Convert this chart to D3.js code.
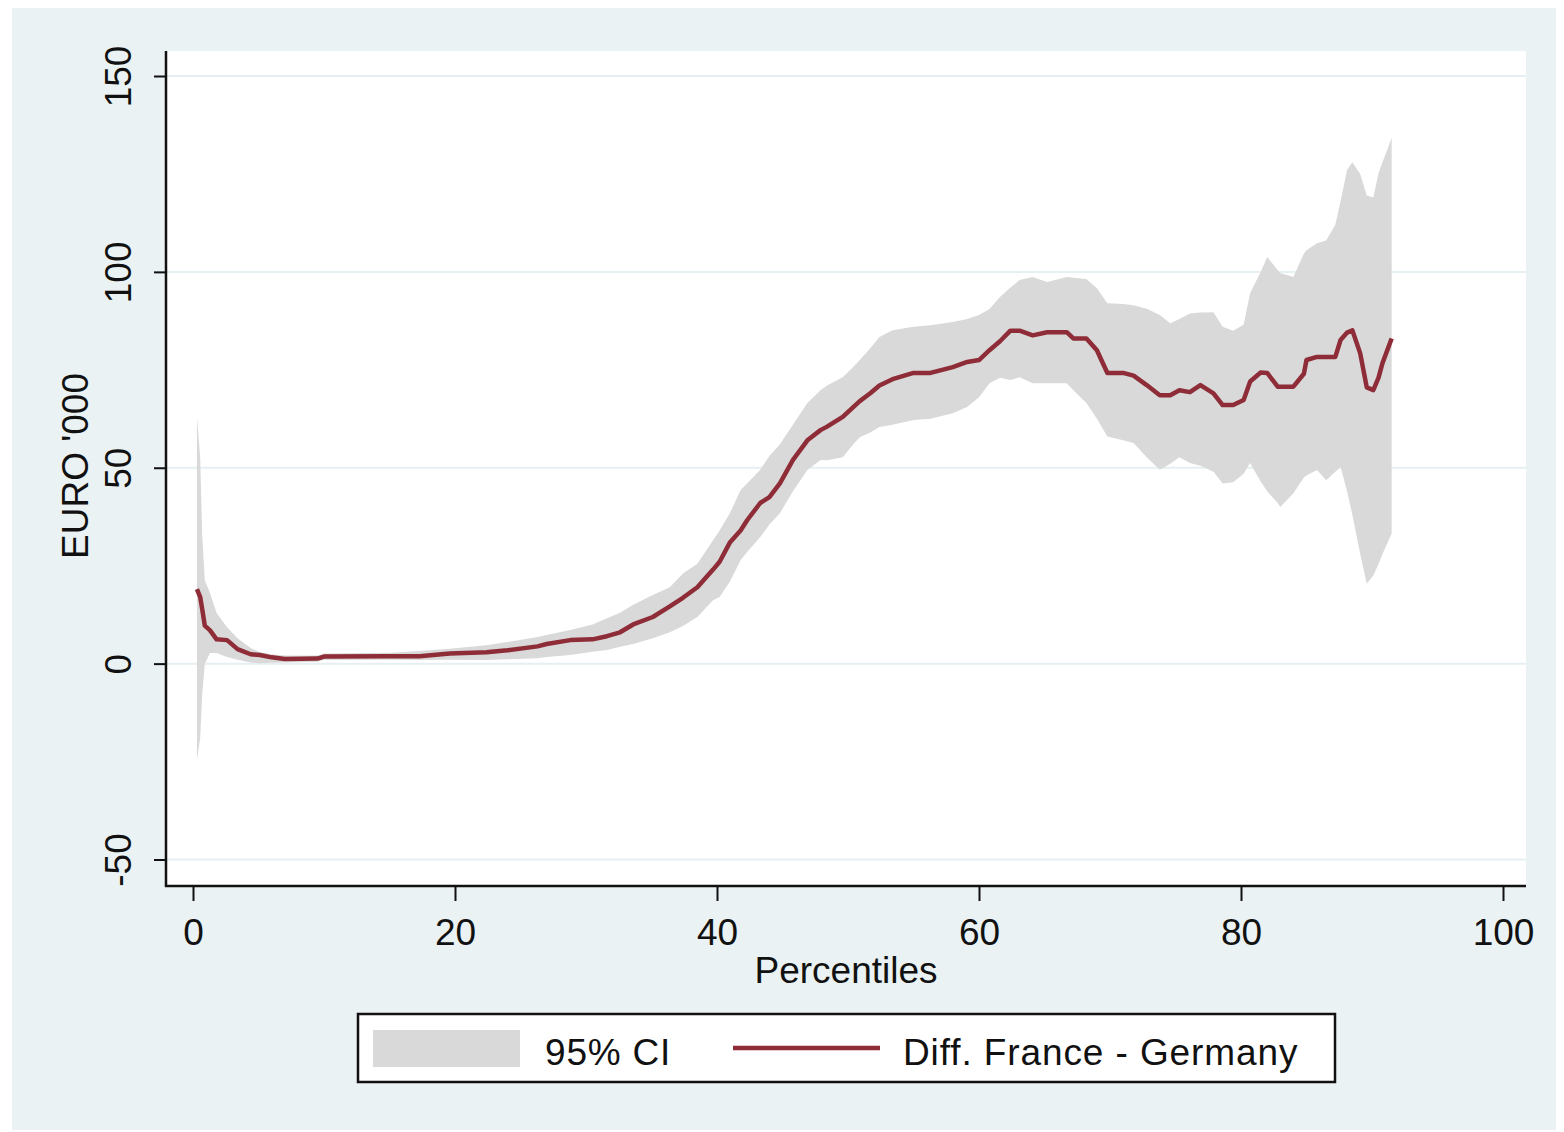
<!DOCTYPE html>
<html>
<head>
<meta charset="utf-8">
<script src="https://cdn.jsdelivr.net/npm/d3@7"></script>
<style>
  html, body { margin: 0; padding: 0; background: #ffffff; }
  svg { display: block; }
  text { font-family: "Liberation Sans", Arial, sans-serif; fill: #111; }
</style>
</head>
<body>
<svg id="chart" width="1564" height="1132"></svg>
<script>
// Percentile positions
const percentiles = [0.3,0.55,0.7,0.9,1.3,1.8,2.6,3.4,4.4,5.1,6,7,9.5,10,15,17.3,19.6,22.4,24,26.3,27,28.8,30.5,31.6,32.6,33.6,35.1,36.4,37.4,38.5,39.7,40.2,41,41.8,42.3,43.3,44,44.8,45.8,46.9,47.9,48.4,49.6,50.4,50.9,51.7,52.4,53.4,55,56.3,58,59.1,60,60.8,61.6,62.4,63.1,64.1,65.2,66.7,67.2,68.2,69,69.8,71,71.8,72.8,73.8,74.6,75.3,76.1,76.9,77.9,78.6,79.4,80.2,80.7,81.5,82,82.8,83,84,84.8,85,85.8,86.5,87.2,87.6,88.1,88.5,89.1,89.6,90.1,90.5,90.8,91.5];
// Difference France - Germany (EURO '000)
const diffValues = [19,17,14,9.7,8.5,6.2,6,3.7,2.4,2.2,1.6,1.2,1.3,1.8,1.9,1.9,2.6,2.9,3.4,4.4,5,6,6.2,7,8,10,11.9,14.6,16.8,19.5,24,26,31,34,36.6,41,42.5,46,52,57,59.6,60.5,63,65.5,67,69,71,72.6,74.2,74.2,75.7,77,77.5,80,82.3,85,85,83.8,84.6,84.6,83,83,80,74.2,74.2,73.5,71.1,68.5,68.5,69.8,69.3,71.1,69,66,66,67.3,72,74.3,74.2,70.7,70.7,70.7,74,77.5,78.3,78.3,78.3,82.6,84.5,85.1,79.2,70.5,69.8,73,76.7,83];
// 95% CI lower bound
const ciLower = [-24.6,-19,-8,0,2.7,2.7,1.7,1.0,0.3,0.1,0.2,0.3,0.5,0.9,1.0,0.9,1.0,0.9,1.1,1.4,1.7,2.2,3.0,3.5,4.3,5.0,6.5,8,9.6,11.9,16.2,17,21,26.4,28.5,32.3,35.5,38.4,44,49.4,52,51.9,52.7,56,57.8,59,60.4,61,62.2,62.5,63.9,65.5,68,71.6,73,72.4,73.1,71.6,71.6,71.6,69.8,66.5,62.5,58,57,56.3,52.7,49.5,51,52.7,51.2,50.5,49,46,46.3,48.5,51.2,46.5,44,41,40,43.5,47.5,48,49.4,46.8,49,50.2,44,38,28,20.4,22.5,25.4,28,33.2];
// 95% CI upper bound
const ciUpper = [63,52.5,33,21.3,18,12.9,9.3,6.5,4,2.9,2.4,2.1,2.1,2.6,2.8,3.2,3.8,4.7,5.5,6.8,7.3,8.6,10,11.6,13,15,17.5,19.5,23,25.5,31.5,34,38.5,44.3,46,49.5,53,56,61,66.5,69.8,71,73.1,75.7,77.5,80.5,83.4,85.1,86,86.4,87.2,88,89,90.5,93.6,96,97.9,98.7,97.4,98.7,98.5,98.2,95.8,92,91.8,91.5,90.6,89,86.9,88,89.4,89.6,89.7,86,85,86.5,94.6,100,103.8,100.5,99.7,98.7,104.7,105.5,107.3,108,112,118,126,128,125,119.5,119,125.2,128,134.2];

const xTicks = [0, 20, 40, 60, 80, 100];
const yTicks = [-50, 0, 50, 100, 150];
const legendLabels = ["95% CI", "Diff. France - Germany"];

const data = percentiles.map((p, i) => ({p, v: diffValues[i], lo: ciLower[i], hi: ciUpper[i]}));

const svg = d3.select("#chart");
const plot = {left: 166, right: 1526, top: 51, bottom: 886};

const x = d3.scaleLinear().domain([0, 100]).range([193, 1503]);
const y = d3.scaleLinear().domain([-50, 150]).range([859.5, 76]);

// outer background
svg.append("rect").attr("x", 12).attr("y", 8).attr("width", 1544).attr("height", 1122)
  .attr("fill", "#eaf2f3");

// plot region
svg.append("rect").attr("x", plot.left).attr("y", plot.top)
  .attr("width", plot.right - plot.left).attr("height", plot.bottom - plot.top)
  .attr("fill", "#ffffff");

// gridlines
svg.append("g").selectAll("line").data(yTicks).join("line")
  .attr("x1", plot.left).attr("x2", plot.right)
  .attr("y1", d => y(d)).attr("y2", d => y(d))
  .attr("stroke", "#e6eff1").attr("stroke-width", 2);

// CI area
const area = d3.area().x(d => x(d.p)).y0(d => y(d.lo)).y1(d => y(d.hi));
svg.append("path").datum(data).attr("d", area).attr("fill", "#d9d9d9");

// line
const line = d3.line().x(d => x(d.p)).y(d => y(d.v));
svg.append("path").datum(data).attr("d", line)
  .attr("fill", "none").attr("stroke", "#8e2c38").attr("stroke-width", 4.5)
  .attr("stroke-linejoin", "round");

const fmt = d => String(d);

// axes
const yAxis = d3.axisLeft(y).tickValues(yTicks).tickSize(12).tickFormat(fmt);
const gy = svg.append("g").attr("transform", `translate(${plot.left},0)`).call(yAxis);
gy.select(".domain").remove();
gy.selectAll(".tick line").attr("stroke", "#111").attr("stroke-width", 2);
gy.selectAll(".tick text")
  .attr("x", null).attr("dy", null)
  .attr("transform", "translate(-35,0) rotate(-90)")
  .attr("text-anchor", "middle")
  .attr("font-size", 37).attr("font-family", "Liberation Sans, Arial, sans-serif").attr("fill", "#111");

const xAxis = d3.axisBottom(x).tickValues(xTicks).tickSize(15).tickFormat(fmt);
const gx = svg.append("g").attr("transform", `translate(0,${plot.bottom})`).call(xAxis);
gx.select(".domain").remove();
gx.selectAll(".tick line").attr("stroke", "#111").attr("stroke-width", 2);
gx.selectAll(".tick text").attr("y", 59).attr("dy", null)
  .attr("font-size", 37).attr("font-family", "Liberation Sans, Arial, sans-serif").attr("fill", "#111");

// axis lines
svg.append("line").attr("x1", plot.left).attr("x2", plot.left).attr("y1", plot.top).attr("y2", plot.bottom + 1)
  .attr("stroke", "#111").attr("stroke-width", 2.5);
svg.append("line").attr("x1", plot.left - 1).attr("x2", plot.right).attr("y1", plot.bottom).attr("y2", plot.bottom)
  .attr("stroke", "#111").attr("stroke-width", 2.5);

// axis titles
svg.append("text").attr("transform", "translate(88,466) rotate(-90)")
  .attr("text-anchor", "middle").attr("font-size", 37).text("EURO '000");
svg.append("text").attr("x", (plot.left + plot.right) / 2).attr("y", 983)
  .attr("text-anchor", "middle").attr("font-size", 37).text("Percentiles");

// legend
const lg = svg.append("g");
lg.append("rect").attr("x", 358).attr("y", 1014).attr("width", 977).attr("height", 68)
  .attr("fill", "#ffffff").attr("stroke", "#111").attr("stroke-width", 2.5);
lg.append("rect").attr("x", 373).attr("y", 1030).attr("width", 147).attr("height", 37)
  .attr("fill", "#d9d9d9");
lg.append("text").attr("x", 545).attr("y", 1065).attr("font-size", 37)
  .attr("letter-spacing", 0.8).text(legendLabels[0]);
lg.append("line").attr("x1", 733).attr("x2", 880).attr("y1", 1048).attr("y2", 1048)
  .attr("stroke", "#8e2c38").attr("stroke-width", 4.5);
lg.append("text").attr("x", 903).attr("y", 1065).attr("font-size", 37)
  .attr("letter-spacing", 0.9).text(legendLabels[1]);
</script>
</body>
</html>
